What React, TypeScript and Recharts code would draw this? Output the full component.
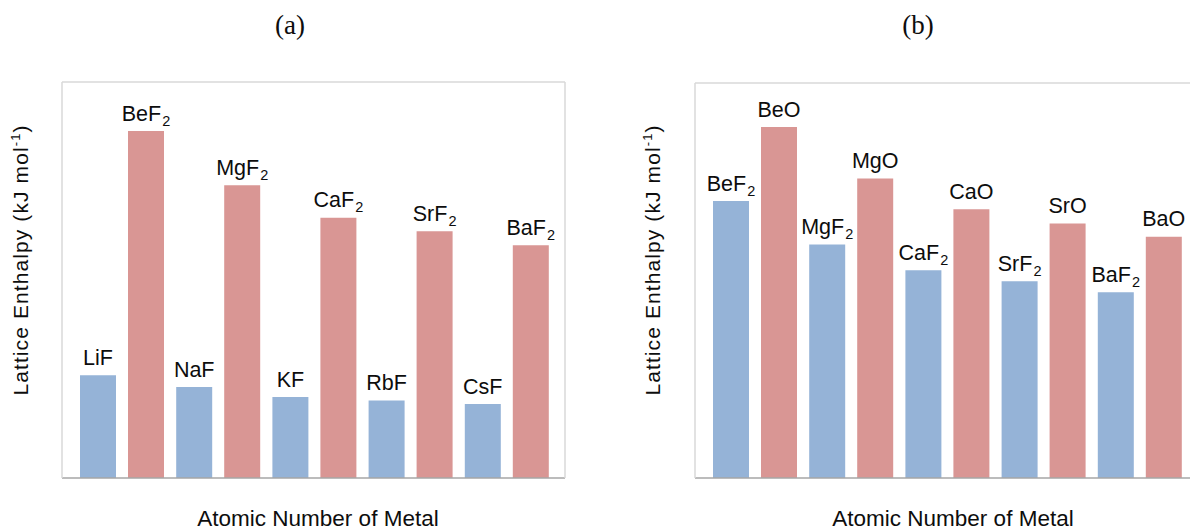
import React from 'react';
import { BarChart, Bar, XAxis, YAxis, LabelList } from 'recharts';

// ---- Chart (a): group 1 fluorides vs group 2 fluorides ----
const categoriesA = ['Li / Be', 'Na / Mg', 'K / Ca', 'Rb / Sr', 'Cs / Ba'];
const blueNamesA = ['LiF', 'NaF', 'KF', 'RbF', 'CsF'];
const blueValuesA = [1037, 918, 817, 783, 747];
const redNamesA = ['BeF2', 'MgF2', 'CaF2', 'SrF2', 'BaF2'];
const redValuesA = [3505, 2957, 2630, 2492, 2352];

// ---- Chart (b): group 2 fluorides vs group 2 oxides ----
const categoriesB = ['Be', 'Mg', 'Ca', 'Sr', 'Ba'];
const blueNamesB = ['BeF2', 'MgF2', 'CaF2', 'SrF2', 'BaF2'];
const blueValuesB = [3505, 2957, 2630, 2492, 2352];
const redNamesB = ['BeO', 'MgO', 'CaO', 'SrO', 'BaO'];
const redValuesB = [4443, 3791, 3401, 3223, 3054];

const domainA: [number, number] = [0, 4000];
const domainB: [number, number] = [0, 5000];

const titleA = '(a)';
const titleB = '(b)';
const xTitle = 'Atomic Number of Metal';
const yTitleMain = 'Lattice Enthalpy (kJ mol';
const yTitleSup = '-1';
const yTitleEnd = ')';

const FONT = '"Liberation Sans", Arial, Helvetica, sans-serif';
const BLUE = '#95B3D7';
const RED = '#D99694';
const FRAME = '#d9d9d9';
const BASE = '#a6a6a6';
const INK = '#0d0d0d';

const buildData = (cats: string[], bn: string[], bv: number[], rn: string[], rv: number[]) =>
  cats.map((c, i) => ({ cat: c, blue: bv[i], red: rv[i], blueName: bn[i], redName: rn[i] }));

const dataA = buildData(categoriesA, blueNamesA, blueValuesA, redNamesA, redValuesA);
const dataB = buildData(categoriesB, blueNamesB, blueValuesB, redNamesB, redValuesB);

const FormulaLabel = (props: any) => {
  const vb = props.viewBox || {};
  const x = Number(props.x ?? vb.x);
  const y = Number(props.y ?? vb.y);
  const w = Number(props.width ?? vb.width);
  const m = String(props.value).match(/^(.*?)(\d+)?$/) || [];
  const base = m[1] || String(props.value);
  const sub = m[2];
  return (
    <text x={x + w / 2} y={y - 10.5} textAnchor="middle" fontFamily={FONT} fontSize={21.5} fill={INK}>
      {base}
      {sub ? (
        <tspan fontSize={14.5} dy={5} dx={1}>
          {sub}
        </tspan>
      ) : null}
    </text>
  );
};

const makeXTitle = (dx: number, baseline: number) => (p: any) => {
  const vb = p.viewBox || {};
  return (
    <text x={vb.x + vb.width / 2 + dx} y={vb.y + baseline} textAnchor="middle" fontFamily={FONT} fontSize={22.5} fill={INK}>
      {xTitle}
    </text>
  );
};

const makeYTitle = (cx: number, cy: number) => () => (
  <text
    x={cx}
    y={cy}
    transform={`rotate(-90, ${cx}, ${cy})`}
    textAnchor="middle"
    fontFamily={FONT}
    fontSize={21}
    letterSpacing={1.1}
    fill={INK}
  >
    {yTitleMain}
    <tspan fontSize={13} dy={-8}>
      {yTitleSup}
    </tspan>
    <tspan dy={8}>{yTitleEnd}</tspan>
  </text>
);

type PanelProps = {
  data: any[];
  domain: [number, number];
  top: number;
  xdx: number;
  xBaseline: number;
  ycx: number;
  ycy: number;
};

const Panel = ({ data, domain, top, xdx, xBaseline, ycx, ycy }: PanelProps) => (
  <BarChart width={600} height={531} data={data} margin={{ top: 0, right: 0, bottom: 0, left: 0 }} barSize={36} barGap={12}>
    <XAxis
      xAxisId="top"
      orientation="top"
      dataKey="cat"
      height={top}
      tick={false}
      tickLine={false}
      axisLine={{ stroke: FRAME, strokeWidth: 1.5 }}
      padding={{ left: 12, right: 10 }}
    />
    <XAxis
      dataKey="cat"
      height={53}
      tick={false}
      tickLine={false}
      axisLine={{ stroke: BASE, strokeWidth: 1.5 }}
      padding={{ left: 12, right: 10 }}
      label={{ content: makeXTitle(xdx, xBaseline) }}
    />
    <YAxis
      width={62}
      domain={domain}
      tick={false}
      tickLine={false}
      axisLine={{ stroke: FRAME, strokeWidth: 1.5 }}
      label={{ content: makeYTitle(ycx, ycy) }}
    />
    <YAxis
      yAxisId="r"
      orientation="right"
      width={35}
      domain={domain}
      tick={false}
      tickLine={false}
      axisLine={{ stroke: FRAME, strokeWidth: 1.5 }}
    />
    <Bar dataKey="blue" fill={BLUE} isAnimationActive={false}>
      <LabelList dataKey="blueName" content={FormulaLabel} />
    </Bar>
    <Bar dataKey="red" fill={RED} isAnimationActive={false}>
      <LabelList dataKey="redName" content={FormulaLabel} />
    </Bar>
  </BarChart>
);

const titleStyle = (centerX: number): React.CSSProperties => ({
  position: 'absolute',
  left: centerX - 50,
  top: 12,
  width: 100,
  textAlign: 'center',
  fontFamily: '"Liberation Serif", "Times New Roman", serif',
  fontSize: 27,
  lineHeight: '27px',
  color: INK,
});

export default function App() {
  return (
    <div
      style={{
        position: 'absolute',
        left: 0,
        top: 0,
        width: 1190,
        height: 531,
        overflow: 'hidden',
        background: '#ffffff',
      }}
    >
      <div style={{ position: 'absolute', left: 0, top: 0 }}>
        <Panel data={dataA} domain={domainA} top={82} xdx={4.5} xBaseline={47.5} ycx={28} ycy={260} />
      </div>
      <div style={{ position: 'absolute', left: 633, top: 0 }}>
        <Panel data={dataB} domain={domainB} top={83} xdx={6.5} xBaseline={47.5} ycx={27} ycy={260} />
      </div>
      <div style={titleStyle(290)}>{titleA}</div>
      <div style={titleStyle(918)}>{titleB}</div>
    </div>
  );
}
